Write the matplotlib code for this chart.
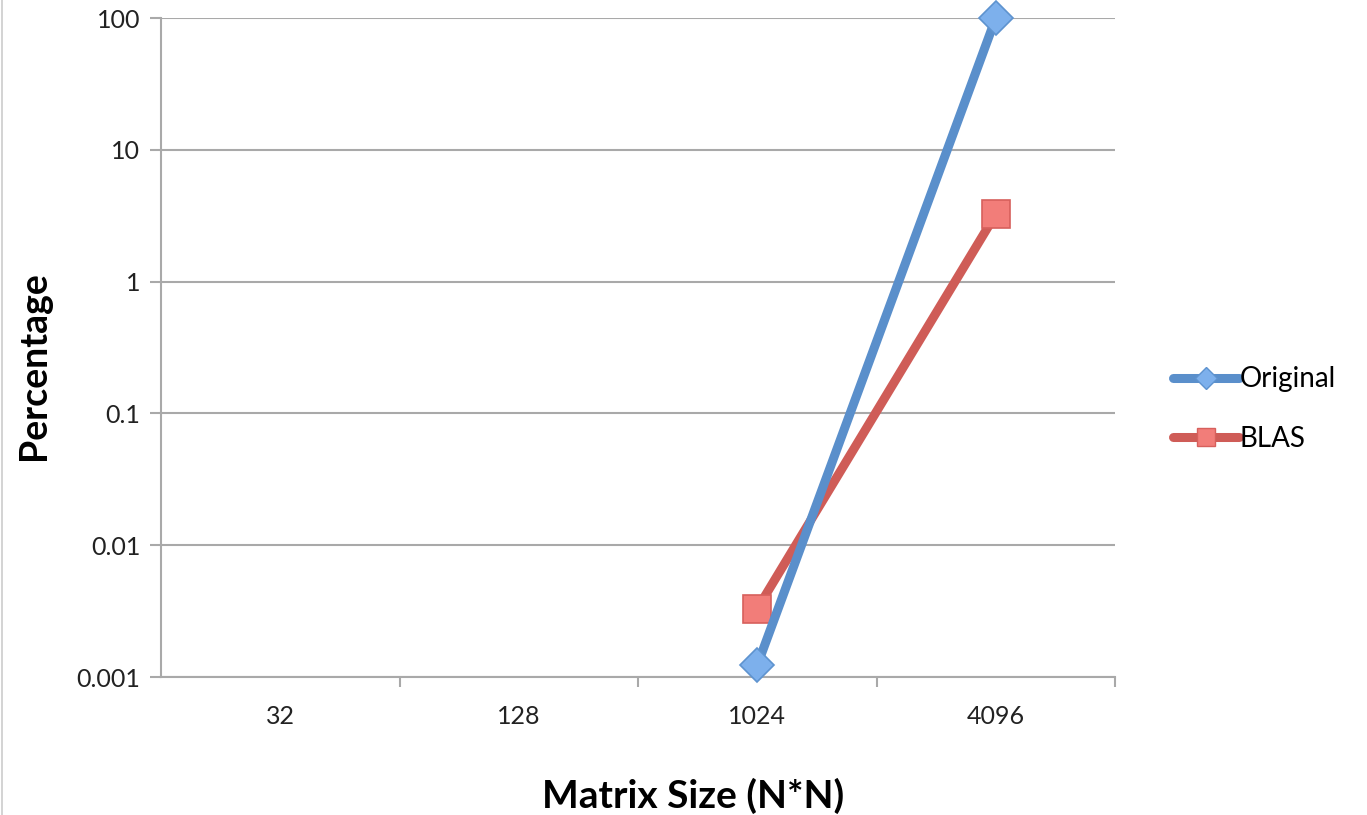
import numpy as np
import matplotlib.pyplot as plt
from matplotlib.lines import Line2D

# ── Data ──────────────────────────────────────────────────────────────────────
sizes     = ['32', '128', '1024', '4096']
original  = [np.nan, np.nan, 0.00123, 100.0]
blas      = [np.nan, np.nan, 0.0033, 3.25]

FONT = 'Lato'
GRID = '#A9A9A9'
BLUE_LINE, BLUE_MK = '#5A8FCB', '#7DB0EC'
RED_LINE, RED_MK   = '#CF5C57', '#F27D79'

fig = plt.figure(figsize=(13.67, 8.15), dpi=100, facecolor='white')
ax = fig.add_axes([0.1178, 0.1693, 0.8157 - 0.1178, 0.9779 - 0.1693])

x = np.arange(len(sizes))
ax.plot(x, original, color=BLUE_LINE, lw=6.5, solid_capstyle='round',
        marker='D', ms=17, mfc=BLUE_MK, mec='#5E93CF', mew=1.2, zorder=4,
        clip_on=False)
ax.plot(x, blas, color=RED_LINE, lw=6.5, solid_capstyle='round',
        marker='s', ms=20, mfc=RED_MK, mec='#D7605C', mew=1.2, zorder=3,
        clip_on=False)

ax.set_yscale('log')
ax.set_ylim(0.001, 100)
ax.set_xlim(-0.5, len(sizes) - 0.5)
ax.set_yticks([0.001, 0.01, 0.1, 1, 10, 100])
ax.set_yticklabels(['0.001', '0.01', '0.1', '1', '10', '100'])
ax.minorticks_off()
ax.yaxis.grid(True, color=GRID, lw=1.5)
ax.set_axisbelow(True)

ax.set_xticks(x)
ax.set_xticklabels(sizes)
ax.set_xticks(np.arange(len(sizes)) + 0.5, minor=True)
ax.tick_params(axis='x', which='major', length=0, pad=20)
ax.tick_params(axis='x', which='minor', length=7, width=1.5, color=GRID)
ax.tick_params(axis='y', length=8, width=1.5, color=GRID, pad=7)
ax.tick_params(labelsize=18)
for lab in ax.get_xticklabels() + ax.get_yticklabels():
    lab.set_fontfamily(FONT)
    lab.set_color('#222222')

for s in ['top', 'right']:
    ax.spines[s].set_visible(False)
for s in ['left', 'bottom']:
    ax.spines[s].set_color(GRID)
    ax.spines[s].set_linewidth(1.5)

ax.set_ylabel('Percentage', fontsize=27, fontweight='bold', fontfamily=FONT,
              labelpad=18)
ax.yaxis.label.set_y(0.473)
ax.set_xlabel('Matrix Size (N*N)', fontsize=28, fontweight='bold',
              fontfamily=FONT, labelpad=36)
ax.xaxis.label.set_x(0.558)

handles = [
    Line2D([0], [0], color=BLUE_LINE, lw=6.5, marker='D', ms=11,
           mfc=BLUE_MK, mec='#5E93CF', solid_capstyle='round'),
    Line2D([0], [0], color=RED_LINE, lw=6.5, marker='s', ms=13,
           mfc=RED_MK, mec='#D7605C', solid_capstyle='round'),
]
fig.legend(handles, ['Original', 'BLAS'], loc='center left',
           bbox_to_anchor=(0.840, 0.498), frameon=False, handlelength=2.35,
           handletextpad=0.05, labelspacing=1.2,
           prop={'family': FONT, 'size': 20})

# faint frame edge on the left like the screenshot
fig.add_artist(Line2D([0.0015, 0.0015], [0, 1], color='#CCCCCC', lw=1.2,
                      transform=fig.transFigure))

fig.savefig('out.png', dpi=100, facecolor='white')
